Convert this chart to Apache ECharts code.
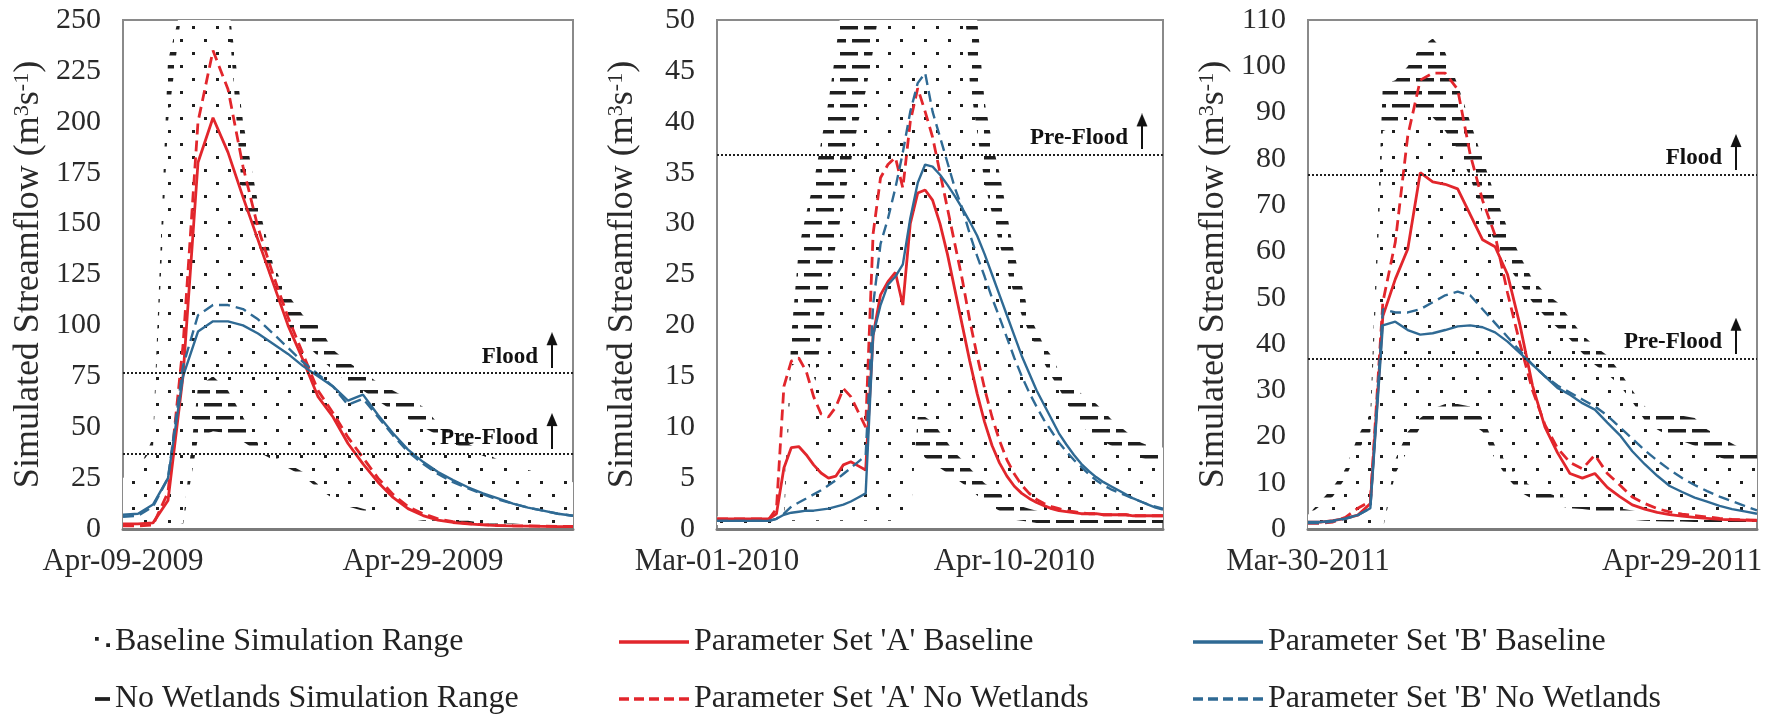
<!DOCTYPE html>
<html>
<head>
<meta charset="utf-8">
<title>Simulated Streamflow</title>
<script src="https://cdn.jsdelivr.net/npm/echarts@6.0.0/dist/echarts.min.js"></script>
<style>
  html, body { margin: 0; padding: 0; background: #fff; }
  #chart { width: 1773px; height: 724px; }
  .warm { position: absolute; left: -9999px; top: 0; font-family: 'Liberation Serif', serif; }
</style>
</head>
<body>
<span class="warm">Simulated 0123456789</span><span class="warm" style="font-weight:bold">Pre-Flood</span>
<div id="chart"></div>
<script>
// thresholds (m3/s)
const FLOOD = 76.5
const PRE_FLOOD = 36.8

// Apr-09-2009 .. May-09-2009
const p1RedBase = [2.5,2.5,3,14,75,180,202,185,163,142,121,100,83,65,55,42,32,23,15.5,10,6.6,4.4,3.2,2.5,2,1.7,1.5,1.4,1.3,1.2,1.2]
const p1RedNoWet = [1.5,1.5,2,18,90,200,235,216,178,148,125,104,86,68,57,45,35,25,17,11,7.5,5,3.6,2.7,2.1,1.8,1.6,1.5,1.4,1.3,1.3]
const p1BlueBase = [7,7.5,12,25,75,97,102,102,100,96,91,86,80,75,70,63,66,56,47,39,33,28,24,20.5,17.5,15,12.5,10.5,9,7.5,6.5]
const p1BlueNoWet = [6,6.5,11,25,80,105,110,110,108,103,96,89,82,76,70,61,64,55,46,38,32,27,23,20,17,14.5,12.5,10.5,9,7.5,6.5]
const p1BaseHigh = [25,30,40,200,260,260,260,255,160,140,120,100,92,85,78,72,68,63,58,54,50,46,42,39,36,33,31,29,27,25,23]
const p1BaseLow = [0,0,0,0,3,70,75,68,55,42,36,32,28,22,16,12,10,8,7,6,5,5,4,4,3,3,3,2,2,2,2]
const p1NoWetHigh = [20,28,45,230,260,260,260,260,200,160,130,115,105,100,88,82,77,72,68,64,60,52,47,42,38,34,31,28,26,24,22]
const p1NoWetLow = [0,0,0,0,2,45,48,47,43,38,34,30,26,20,15,11,9,7,6,5,4,4,3,3,3,2,2,2,2,2,2]

// Mar-01-2010 .. Apr-30-2010
const p2RedBase = [1,1,1,1,1,1,1,1,
  1.5,6,8,8.1,7.3,6.3,5.5,5.0,5.2,6.3,6.6,6.2,
  5.8,19,23,24.3,25.2,22,30,33,33.3,32.3,
  30,27,23.5,20,16.5,13.3,10.5,8.2,6.5,5.2,
  4.2,3.5,3.0,2.6,2.3,2.0,1.8,1.7,1.6,1.5,
  1.5,1.5,1.4,1.4,1.4,1.4,1.3,1.3,1.3,1.3,1.3]
const p2RedNoWet = [1,1,1,1,1,1,1,1,
  2,14,16.5,16.8,15.5,13,11.3,11,12,13.8,13,11.5,
  10,29,34.5,35.8,36.5,33.5,40,43.3,41,38.5,
  35,31.5,28,24.5,20.5,17,13.8,11,8.7,6.8,
  5.4,4.3,3.5,2.9,2.5,2.2,2.0,1.8,1.7,1.6,
  1.5,1.5,1.4,1.4,1.4,1.4,1.3,1.3,1.3,1.3,1.3]
const p2BlueBase = [0.8,0.8,0.8,0.8,0.8,0.8,0.8,0.8,
  1.0,1.4,1.6,1.7,1.8,1.8,1.9,2.0,2.2,2.4,2.7,3.1,
  3.5,19,22,24,24.8,26,30.5,34,35.8,35.6,
  34.8,33.8,32.7,31.5,30.2,28.8,27,25,23,21,
  19,17,15.3,13.6,12.2,10.8,9.4,8.3,7.3,6.4,
  5.7,5.1,4.6,4.2,3.8,3.4,3.0,2.7,2.4,2.1,1.9]
const p2BlueNoWet = [0.8,0.8,0.8,0.8,0.8,0.8,0.8,0.8,
  1.0,1.5,2.2,2.6,3.0,3.4,3.8,4.3,4.8,5.4,6.0,6.6,
  7.2,22,28,30.5,33.5,37,41,43.8,44.8,41,
  38.5,36,33.5,31.5,29,26.8,24.8,22.7,20.8,18.8,
  16.8,15.0,13.4,12.0,10.7,9.6,8.5,7.6,6.8,6.1,
  5.4,4.8,4.3,3.9,3.6,3.3,3.0,2.7,2.4,2.2,2.0]
const p2BaseHigh = [1.2,1.2,1.2,1.2,1.2,1.2,1.2,1.2,1.2,1.2,
  2,3.5,5,13,19,24,28,32,36,40,
  43,47,52,60,60,60,60,60,60,60,
  60,60,60,55,44,39,34,31,28,25.5,
  23,21,19.3,17.8,16.3,15,13.8,12.5,11.2,10.2,
  9.5,9.0,8.6,8.2,7.9,7.6,7.3,7.0,6.8,6.6,6.4]
const p2BaseLow = [0.5,0.5,0.5,0.5,0.5,0.5,0.5,0.5,0.5,0.5,
  0.8,0.8,0.8,0.8,0.8,0.8,0.8,0.8,0.8,0.8,
  0.8,0.8,0.8,0.8,0.8,0.8,0.8,11,11,10.5,
  9.5,8.5,7.5,6.8,6,5.2,4.5,4,3.5,3,
  2.5,2.2,2,1.8,1.6,1.5,1.4,1.4,1.3,1.3,
  1.2,1.2,1.2,1.1,1.1,1.1,1.0,1.0,1.0,1.0,1.0]
const p2NoWetHigh = [1.2,1.2,1.2,1.2,1.2,1.2,1.2,1.2,1.2,1.5,
  19,27.5,31,34,38,42,47,53,60,60,
  60,60,60,60,60,60,60,60,60,60,
  60,60,60,60,60,50,42,38,35,31,
  27,24,21,19.5,18,17,15.5,14.5,13.8,13.3,
  12.8,12.3,11.6,10.8,10.2,9.6,9.0,8.5,8.2,8.0,8.0]
const p2NoWetLow = [0.4,0.4,0.4,0.4,0.4,0.4,0.4,0.4,0.4,0.4,
  16,16.5,16.5,15,13,11,10,9,8,7.5,
  7,8,8.5,9,9,9,8.5,8,7,6.5,
  6,5.5,5,4.5,4,3.3,2.7,2.2,1.8,1.2,
  0.9,0.8,0.7,0.6,0.6,0.6,0.6,0.6,0.6,0.6,
  0.6,0.6,0.6,0.6,0.6,0.6,0.6,0.6,0.6,0.6,0.6]

// Mar-30-2011 .. May-05-2011
const p3RedBase = [1.5,1.5,1.8,2.3,3,5.5,46,54,60.5,77,75,74.5,73.5,68,62.5,61,55,44,31,22,16.5,12,11,12,9,7,5.2,4.3,3.6,3.1,2.8,2.5,2.3,2.1,2.0,1.9,1.8]
const p3RedNoWet = [1.2,1.2,1.5,2.5,4.5,6,49,62,85,97,98.5,98.5,95,81,71,63.5,51,40,30,22.5,17.5,14.4,13,16,12,9.5,6.9,5.5,4.4,3.7,3.2,2.9,2.6,2.3,2.1,2.0,1.9]
const p3BlueBase = [1.5,1.5,1.8,2.3,3,4.5,44,44.8,43,42,42.3,43,43.8,44,43.6,42.5,40.5,38,35.5,33,30.5,29,27.2,25.8,23,20.3,16.8,14,11.5,9.3,8.0,6.8,5.9,5.0,4.3,3.8,3.3]
const p3BlueNoWet = [1.3,1.3,1.6,2.2,3,4.5,47.5,46.8,46.8,47.5,49,50.5,51.3,50.5,47.5,44.5,41.5,38.5,35.5,33,31,29.5,28,26.5,24.5,22,19.5,17,14.8,12.8,11,9.5,8.2,7,6,5,4]
const p3BaseHigh = [3,5,7,11,17,21,86,87,90,91,89,86,82,76,68,62,57,53,49,46,43.5,41,38,35.5,33.5,31,27.5,23.5,21.5,20,19,18,16.5,15.5,14.5,14,13.5]
const p3BaseLow = [0,0,0,0,0,0,0,15,21,24,26,27,27,26.5,24,18,14,11,9,8,7,6.5,6,5.5,5,4.5,4,3.5,3,3,2.8,2.6,2.5,2.4,2.3,2.2,2.1]
const p3NoWetHigh = [3,6,9,13,20,25,96,97,100,104,106,103,96,88,80,72,65,59,54,51,49,45.5,42,39.5,37.5,34,30,26.5,25.5,25,24.5,24,21.5,20,18.5,17,16]
const p3NoWetLow = [0,0,0,0,0,0,0,12,17,22,23,23,23,23,21,15,11,8,6.5,5.5,5,4.5,4.3,4,3,2.5,2,1.8,1.7,1.6,1.6,1.5,1.5,1.5,1.5,1.5,1.5]

const MONTHS = ['Jan','Feb','Mar','Apr','May','Jun','Jul','Aug','Sep','Oct','Nov','Dec']
function dayLabels(y, m, d, n) {
  const out = []
  for (let i = 0; i < n; i++) {
    const t = new Date(Date.UTC(y, m - 1, d + i))
    out.push(MONTHS[t.getUTCMonth()] + '-' + String(t.getUTCDate()).padStart(2, '0') + '-' + t.getUTCFullYear())
  }
  return out
}
const p1Dates = dayLabels(2009, 4, 9, p1RedBase.length)
const p2Dates = dayLabels(2010, 3, 1, p2RedBase.length)
const p3Dates = dayLabels(2011, 3, 30, p3RedBase.length)

const RED = '#e2262c'
const BLUE = '#2f6a94'
const INK = '#1f1f1f'
const FONT = "'Liberation Serif', 'Times New Roman', serif"

// pattern tiles for the ranges
function tile(draw) {
  const c = document.createElement('canvas')
  c.width = 24
  c.height = 26
  const ctx = c.getContext('2d')
  ctx.fillStyle = '#fff'
  ctx.fillRect(0, 0, 24, 26)
  ctx.fillStyle = INK
  draw(ctx)
  return c
}
const dotTile = tile(ctx => {
  ctx.fillRect(0, 0, 3, 3)
  ctx.fillRect(12, 13, 3, 3)
})
const dashTile = tile(ctx => {
  ctx.fillRect(0, 0, 18, 3.5)
  ctx.fillRect(12, 13, 12, 3.5)
  ctx.fillRect(0, 13, 6, 3.5)
})
const arrow = document.createElement('canvas')
arrow.width = 12
arrow.height = 36
;(function () {
  const ctx = arrow.getContext('2d')
  ctx.fillStyle = '#111'
  ctx.beginPath()
  ctx.moveTo(6, 0)
  ctx.lineTo(11.5, 13)
  ctx.lineTo(0.5, 13)
  ctx.closePath()
  ctx.fill()
  ctx.fillRect(5, 12, 2, 24)
})()

const panels = [
  { left: 123, width: 450, max: 250, step: 25, every: 20, dates: p1Dates,
    redBase: p1RedBase, redNoWet: p1RedNoWet, blueBase: p1BlueBase, blueNoWet: p1BlueNoWet,
    baseHigh: p1BaseHigh, baseLow: p1BaseLow, noWetHigh: p1NoWetHigh, noWetLow: p1NoWetLow,
    marks: [['Flood', FLOOD], ['Pre-Flood', PRE_FLOOD]] },
  { left: 717, width: 446, max: 50, step: 5, every: 40, dates: p2Dates,
    redBase: p2RedBase, redNoWet: p2RedNoWet, blueBase: p2BlueBase, blueNoWet: p2BlueNoWet,
    baseHigh: p2BaseHigh, baseLow: p2BaseLow, noWetHigh: p2NoWetHigh, noWetLow: p2NoWetLow,
    marks: [['Pre-Flood', PRE_FLOOD]] },
  { left: 1308, width: 449, max: 110, step: 10, every: 30, dates: p3Dates,
    redBase: p3RedBase, redNoWet: p3RedNoWet, blueBase: p3BlueBase, blueNoWet: p3BlueNoWet,
    baseHigh: p3BaseHigh, baseLow: p3BaseLow, noWetHigh: p3NoWetHigh, noWetLow: p3NoWetLow,
    marks: [['Flood', FLOOD], ['Pre-Flood', PRE_FLOOD]] }
]

function band(name, low, high, pattern, k) {
  const common = { name: name, type: 'line', xAxisIndex: k, yAxisIndex: k, stack: name + k,
    symbol: 'none', silent: true, color: INK, lineStyle: { width: 0, opacity: 0 }, z: 1 }
  return [
    Object.assign({ data: low }, common),
    Object.assign({ data: high.map((v, i) => v - low[i]), areaStyle: { color: { image: pattern, repeat: 'repeat' }, opacity: 1 } }, common)
  ]
}

function curve(name, data, color, dashed, width, k, marks) {
  const s = { name: name, type: 'line', xAxisIndex: k, yAxisIndex: k, data: data, symbol: 'none',
    color: color, lineStyle: { color: color, width: width, type: dashed ? [11, 6] : 'solid' }, z: 4 }
  if (marks) {
    s.markLine = {
      silent: true,
      symbol: 'none',
      lineStyle: { type: [2, 2], width: 2, color: INK },
      label: {
        position: 'insideEndTop',
        distance: [15, 5],
        formatter: p => '{t|' + p.name + '}{g|}{a|}',
        rich: {
          t: { fontFamily: FONT, fontWeight: 'bold', fontSize: 23, color: '#111', verticalAlign: 'bottom' },
          g: { width: 8, height: 4 },
          a: { width: 12, height: 36, backgroundColor: { image: arrow } }
        }
      },
      data: marks.map(m => ({ name: m[0], yAxis: m[1] }))
    }
  }
  return s
}

const grid = []
const xAxis = []
const yAxis = []
const series = []
panels.forEach((p, k) => {
  grid.push({ left: p.left, width: p.width, top: 20, height: 509, show: true,
    borderColor: '#8a8a8a', borderWidth: 2, backgroundColor: 'transparent' })
  xAxis.push({
    gridIndex: k, type: 'category', boundaryGap: false, data: p.dates, z: 6,
    axisLine: { lineStyle: { color: '#7a7a7a', width: 3 } },
    axisTick: { show: false },
    splitLine: { show: false },
    axisLabel: { interval: p.every - 1, fontFamily: FONT, fontSize: 31, color: '#2a2a2a', margin: 17 }
  })
  yAxis.push({
    gridIndex: k, type: 'value', min: 0, max: p.max, interval: p.step,
    axisLine: { show: false }, axisTick: { show: false }, splitLine: { show: false },
    axisLabel: { fontFamily: FONT, fontSize: 30, color: '#2a2a2a', margin: 22 },
    name: 'Simulated Streamflow (m{s|3}s{s|-1})',
    nameLocation: 'middle',
    nameGap: 76,
    nameTextStyle: { fontFamily: FONT, fontSize: 36, color: '#2a2a2a',
      rich: { s: { fontFamily: FONT, fontSize: 22, color: '#2a2a2a', verticalAlign: 'top' } } }
  })
  series.push(...band('No Wetlands Simulation Range', p.noWetLow, p.noWetHigh, dashTile, k))
  series.push(...band('Baseline Simulation Range', p.baseLow, p.baseHigh, dotTile, k))
  series.push(curve("Parameter Set 'A' Baseline", p.redBase, RED, false, 2.8, k, p.marks))
  series.push(curve("Parameter Set 'A' No Wetlands", p.redNoWet, RED, true, 2.8, k))
  series.push(curve("Parameter Set 'B' Baseline", p.blueBase, BLUE, false, 2.4, k))
  series.push(curve("Parameter Set 'B' No Wetlands", p.blueNoWet, BLUE, true, 2.4, k))
})

const legendText = { fontFamily: FONT, fontSize: 32, color: '#222' }
const SOLID_ICON = 'path://M0,0h70v3.5h-70z'
const DASHED_ICON = 'path://M0,0h10v3.5h-10zM15,0h10v3.5h-10zM30,0h10v3.5h-10zM45,0h10v3.5h-10zM60,0h10v3.5h-10z'
const ROW_TOPS = [621, 678]
function legendItem(left, top, width, name, icon, color) {
  return {
    left: left, top: top, itemWidth: width, itemHeight: 12,
    selectedMode: false, textStyle: legendText,
    data: [{ name: name, icon: icon, itemStyle: { color: color, borderWidth: 0 } }]
  }
}

const option = {
  animation: false,
  backgroundColor: '#fff',
  textStyle: { fontFamily: FONT },
  grid: grid,
  xAxis: xAxis,
  yAxis: yAxis,
  legend: [
    legendItem(90, ROW_TOPS[0], 15, 'Baseline Simulation Range', 'path://M0,0h3v3h-3zM9,5h3v3h-3z', INK),
    legendItem(90, ROW_TOPS[1], 15, 'No Wetlands Simulation Range', 'path://M0,0h14v3.5h-14z', INK),
    legendItem(614, ROW_TOPS[0], 70, "Parameter Set 'A' Baseline", SOLID_ICON, RED),
    legendItem(614, ROW_TOPS[1], 70, "Parameter Set 'A' No Wetlands", DASHED_ICON, RED),
    legendItem(1188, ROW_TOPS[0], 70, "Parameter Set 'B' Baseline", SOLID_ICON, BLUE),
    legendItem(1188, ROW_TOPS[1], 70, "Parameter Set 'B' No Wetlands", DASHED_ICON, BLUE)
  ],
  series: series
}

const chart = echarts.init(document.getElementById('chart'))
chart.setOption(option)
// redraw once the serif face is surely matched
if (document.fonts && document.fonts.ready) {
  document.fonts.ready.then(() => chart.setOption(option, true))
}
</script>
</body>
</html>
